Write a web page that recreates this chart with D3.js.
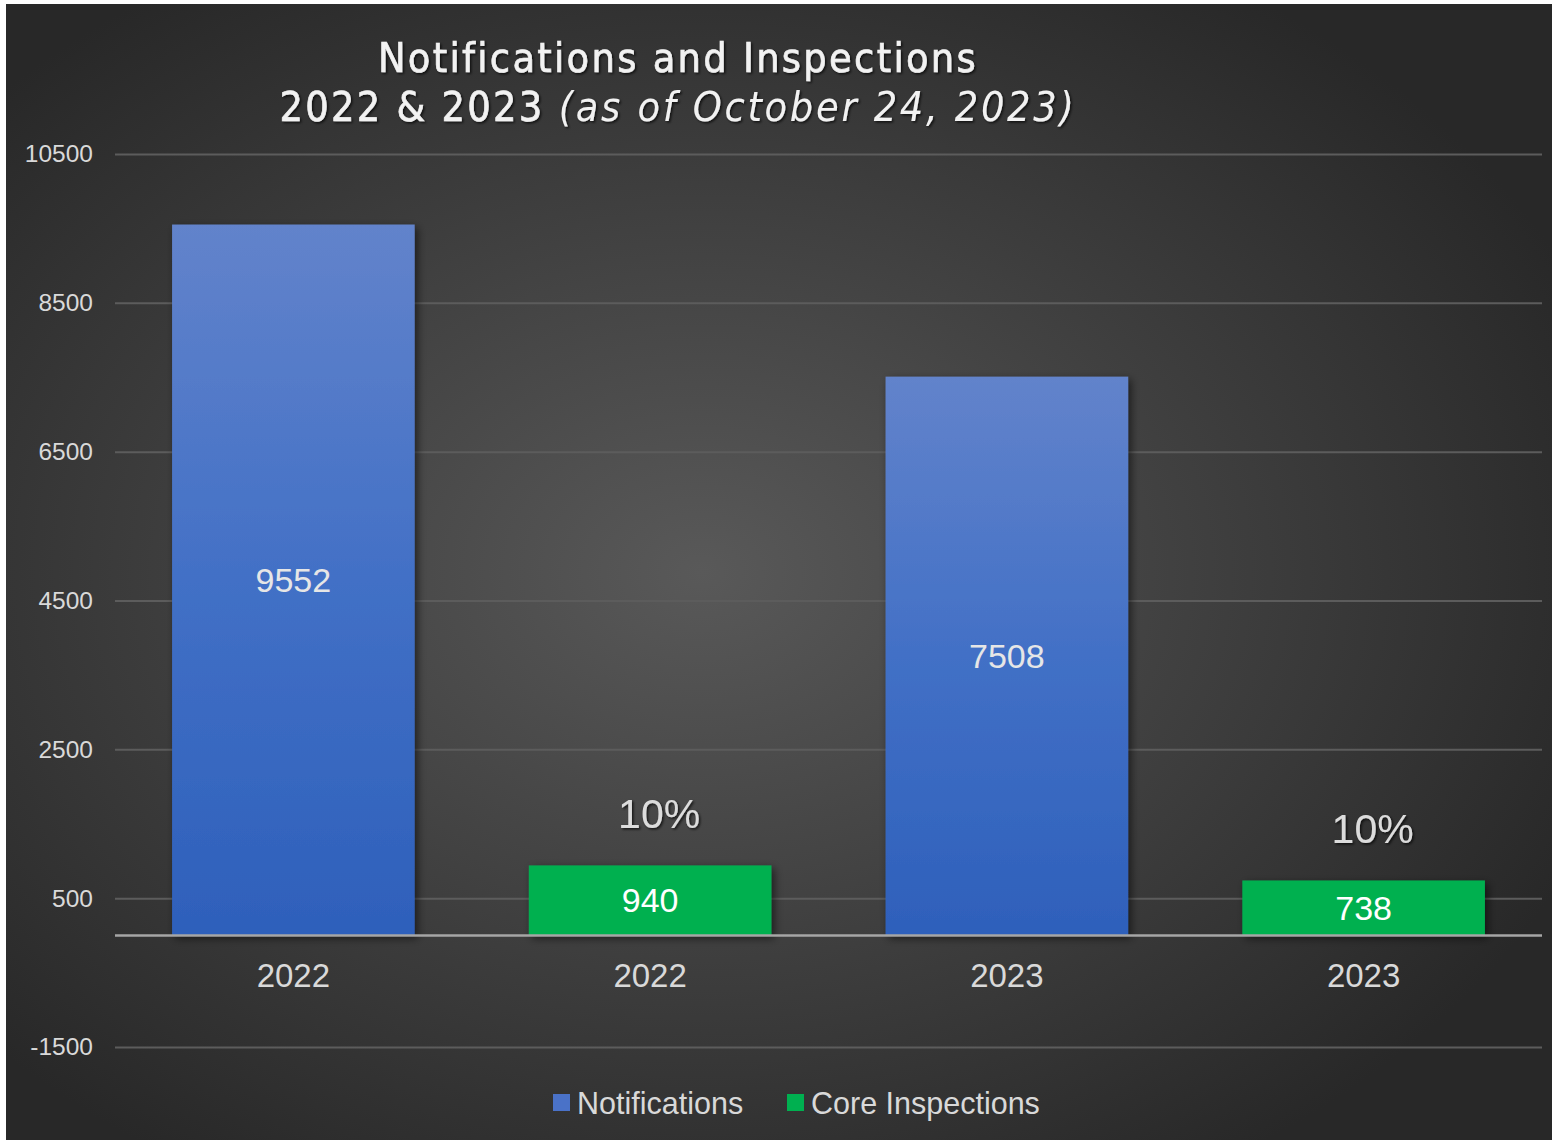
<!DOCTYPE html>
<html>
<head>
<meta charset="utf-8">
<script src="https://cdn.jsdelivr.net/npm/d3@7"></script>
<style>
  body { margin: 0; background: #fff; }
  svg { display: block; }
</style>
</head>
<body>
<div id="chart"></div>
<script>
// chart data
var categories = ["2022", "2022", "2023", "2023"];
var seriesNames = ["Notifications", "Core Inspections"];
var barSeries = [0, 1, 0, 1];          // which series each bar belongs to
var values = [9552, 940, 7508, 738];
var pctLabels = ["", "10%", "", "10%"];
var yTicks = [-1500, 500, 2500, 4500, 6500, 8500, 10500];

var width = 1552, height = 1140;
var margin = {top: 154, right: 10, bottom: 93, left: 115};

var svg = d3.select("#chart").append("svg")
    .attr("width", width)
    .attr("height", height);

var defs = svg.append("defs");

// background radial gradient
var bg = defs.append("radialGradient").attr("id", "bg")
    .attr("cx", "45%").attr("cy", "50%").attr("r", "62%");
bg.append("stop").attr("offset", "0%").attr("stop-color", "#595959");
bg.append("stop").attr("offset", "100%").attr("stop-color", "#282828");

var blue = defs.append("linearGradient").attr("id", "blueGrad")
    .attr("x1", 0).attr("y1", 0).attr("x2", 0).attr("y2", 1);
blue.append("stop").attr("offset", "0%").attr("stop-color", "#6283cb");
blue.append("stop").attr("offset", "50%").attr("stop-color", "#4270c6");
blue.append("stop").attr("offset", "100%").attr("stop-color", "#2e60bb");

var shadow = defs.append("filter").attr("id", "shadow")
    .attr("x", "-10%").attr("y", "-10%").attr("width", "130%").attr("height", "130%");
shadow.append("feDropShadow").attr("dx", 3).attr("dy", 3).attr("stdDeviation", 4)
    .attr("flood-color", "#000").attr("flood-opacity", 0.55);

var txtShadow = defs.append("filter").attr("id", "txtShadow");
txtShadow.append("feDropShadow").attr("dx", 1.5).attr("dy", 1.5).attr("stdDeviation", 1.2)
    .attr("flood-color", "#000").attr("flood-opacity", 0.7);

svg.append("rect")
    .attr("x", 6).attr("y", 4)
    .attr("width", width - 6).attr("height", height - 4)
    .attr("fill", "url(#bg)");

var x = d3.scaleBand()
    .domain(d3.range(categories.length))
    .range([margin.left, width - margin.right])
    .paddingInner(0.32)
    .paddingOuter(0.16);

var y = d3.scaleLinear()
    .domain([-1500, 10500])
    .range([height - margin.bottom, margin.top]);

// gridlines + tick labels
var yAxis = svg.append("g")
    .attr("transform", "translate(" + margin.left + ",0)")
    .call(d3.axisLeft(y).tickValues(yTicks)
        .tickFormat(function (d) { return String(d); })
        .tickSize(-(width - margin.left - margin.right)).tickPadding(22));
yAxis.select(".domain").remove();
yAxis.selectAll(".tick line").attr("stroke", "#5c5c5c").attr("stroke-width", 2);
yAxis.selectAll(".tick text")
    .attr("fill", "#d9d9d9")
    .style("font-family", "Liberation Sans, Arial, sans-serif")
    .style("font-size", "24.5px");

// bars
var colors = ["url(#blueGrad)", "#00b050"];
svg.selectAll(".bar")
    .data(values)
    .enter().append("rect")
    .attr("class", "bar")
    .attr("x", function (d, i) { return x(i); })
    .attr("y", function (d) { return y(d); })
    .attr("width", x.bandwidth())
    .attr("height", function (d) { return y(0) - y(d); })
    .attr("fill", function (d, i) { return colors[barSeries[i]]; })
    .attr("filter", "url(#shadow)");

// zero line
svg.append("line")
    .attr("x1", margin.left).attr("x2", width - margin.right)
    .attr("y1", y(0)).attr("y2", y(0))
    .attr("stroke", "#a6a6a6").attr("stroke-width", 2.5);

// value labels inside bars
svg.selectAll(".val")
    .data(values)
    .enter().append("text")
    .attr("x", function (d, i) { return x(i) + x.bandwidth() / 2; })
    .attr("y", function (d, i) { return (y(d) + y(0)) / 2; })
    .attr("dy", "0.35em")
    .attr("text-anchor", "middle")
    .attr("fill", function (d, i) { return barSeries[i] === 0 ? "#e6e6e6" : "#ffffff"; })
    .style("font-family", "Liberation Sans, Arial, sans-serif")
    .style("font-size", "34px")
    .text(function (d) { return d; });

// percentage annotations
svg.selectAll(".pct")
    .data(values)
    .enter().append("text")
    .attr("x", function (d, i) { return x(i) + x.bandwidth() / 2 + 9; })
    .attr("y", function (d) { return y(d) - 52; })
    .attr("dy", "0.35em")
    .attr("text-anchor", "middle")
    .attr("fill", "#dcdcdc")
    .attr("filter", "url(#txtShadow)")
    .style("font-family", "Liberation Sans, Arial, sans-serif")
    .style("font-size", "41px")
    .text(function (d, i) { return pctLabels[i]; });

// category labels
svg.selectAll(".cat")
    .data(categories)
    .enter().append("text")
    .attr("x", function (d, i) { return x(i) + x.bandwidth() / 2; })
    .attr("y", y(0) + 40)
    .attr("dy", "0.35em")
    .attr("text-anchor", "middle")
    .attr("fill", "#d9d9d9")
    .style("font-family", "Liberation Sans, Arial, sans-serif")
    .style("font-size", "33px")
    .text(function (d) { return d; });

// title
var title = svg.append("text")
    .attr("text-anchor", "middle")
    .attr("fill", "#f2f2f2")
    .attr("filter", "url(#txtShadow)")
    .style("font-family", "DejaVu Sans Condensed, Roboto, sans-serif")
    .style("font-size", "41px")
    .style("letter-spacing", "2.3px");
title.append("tspan").attr("x", 678).attr("y", 72)
    .attr("stroke", "#f2f2f2").attr("stroke-width", 0.6)
    .text("Notifications and Inspections");
var l2 = title.append("tspan").attr("x", 678).attr("y", 121);
l2.append("tspan").attr("stroke", "#f2f2f2").attr("stroke-width", 0.6).text("2022 & 2023 ");
l2.append("tspan").style("font-style", "italic").style("letter-spacing", "2.7px")
    .text("(as of October 24, 2023)");

// legend
var legend = svg.append("g").attr("transform", "translate(553,1103)");
var legX = [0, 234];
seriesNames.forEach(function (name, i) {
    var g = legend.append("g").attr("transform", "translate(" + legX[i] + ",0)");
    g.append("rect").attr("x", 0).attr("y", -9).attr("width", 17).attr("height", 17)
        .attr("fill", i === 0 ? "#4a72c8" : "#00b050");
    g.append("text").attr("x", 24).attr("y", 0).attr("dy", "0.35em")
        .attr("fill", "#d9d9d9")
        .style("font-family", "Liberation Sans, Arial, sans-serif")
        .style("font-size", "30.5px")
        .text(name);
});
</script>
</body>
</html>
